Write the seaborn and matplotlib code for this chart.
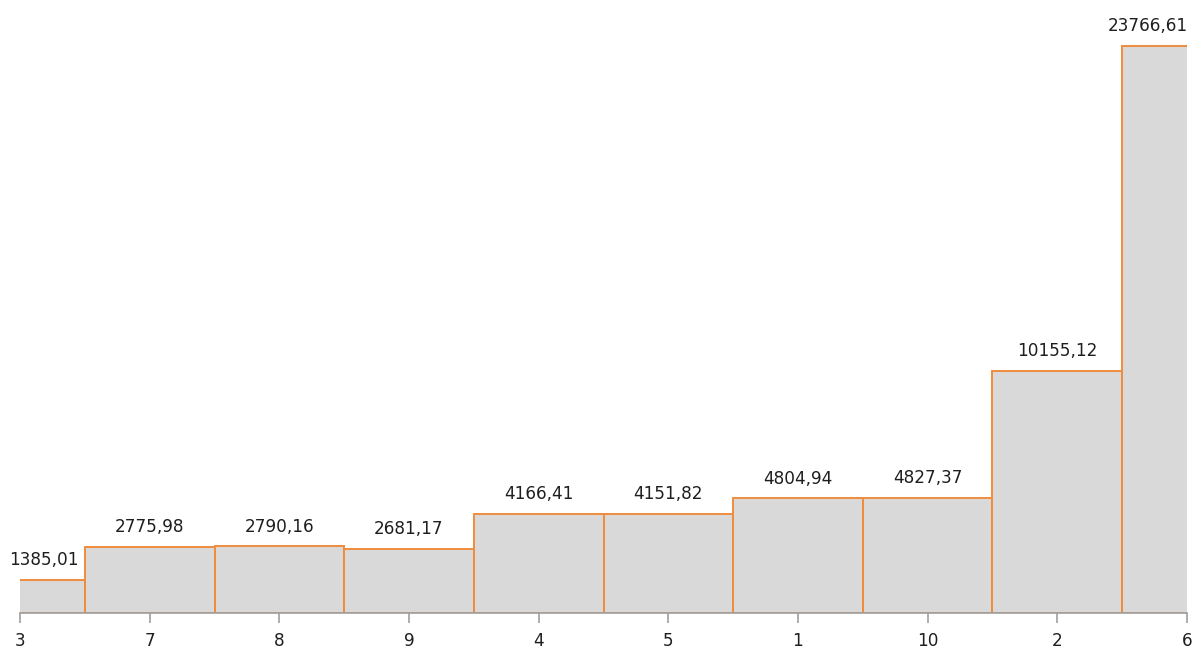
import matplotlib
matplotlib.use("Agg")
import matplotlib.pyplot as plt
import seaborn as sns
import pandas as pd

# Categories in display order and their values
categories = ["3", "7", "8", "9", "4", "5", "1", "10", "2", "6"]
values = [1385.01, 2775.98, 2790.16, 2681.17, 4166.41, 4151.82, 4804.94, 4827.37, 10155.12, 23766.61]

df = pd.DataFrame({"cat": categories, "val": values})

sns.set_theme(style="white")
plt.rcParams["font.family"] = ["DejaVu Sans"]

fig = plt.figure(figsize=(12.03, 6.53), dpi=100)
ax = fig.add_axes([20 / 1203, 40 / 653, 1167 / 1203, 613 / 653])

sns.barplot(data=df, x="cat", y="val", order=categories, width=1.0,
            color="#d9d9d9", saturation=1, edgecolor="#f08c3c",
            linewidth=1.4, ax=ax, errorbar=None)

# Value labels above each bar, with comma decimal separator;
# the outermost labels are nudged inwards so they stay inside the figure
n = len(values)
for i, v in enumerate(values):
    if i == 0:
        ha, dx = "left", -7.5
    elif i == n - 1:
        ha, dx = "right", 0.5
    else:
        ha, dx = "center", 0
    ax.annotate(f"{v:.2f}".replace(".", ","), xy=(i, v), xytext=(dx, 10.5),
                textcoords="offset points", ha=ha, va="baseline",
                fontsize=12.2, color="#1e1e1e", annotation_clip=False)

ax.set_xlim(0, n - 1)
ax.set_ylim(0, 23766.61 * 613 / 567)

for s in ["top", "right", "left"]:
    ax.spines[s].set_visible(False)
ax.spines["bottom"].set_color("#a0a0a0")
ax.spines["bottom"].set_linewidth(1.2)
ax.set_yticks([])
ax.set_xlabel("")
ax.set_ylabel("")
ax.tick_params(axis="x", bottom=True, length=7, width=1.2, color="#a0a0a0",
               labelsize=12.2, labelcolor="#1e1e1e", pad=7)

fig.savefig("out.png", dpi=100)
